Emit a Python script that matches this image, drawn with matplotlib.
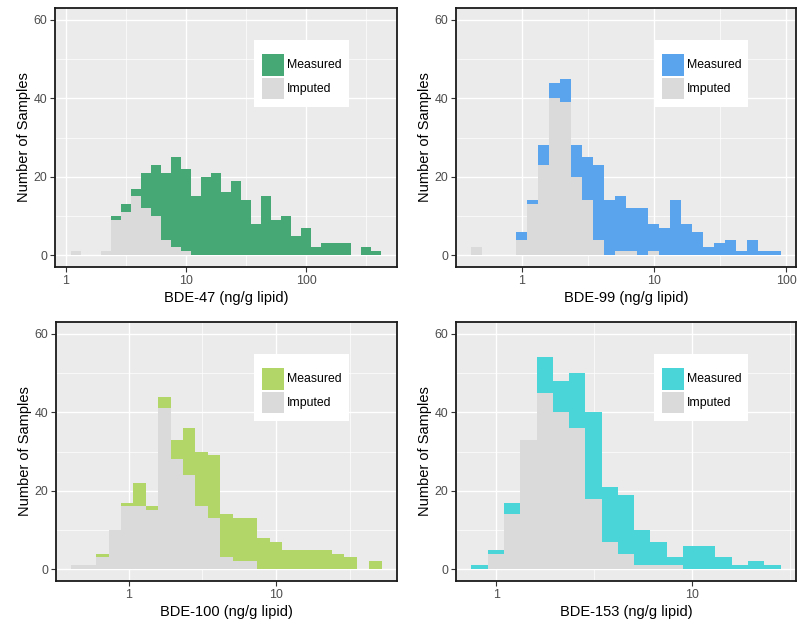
import numpy as np
import matplotlib
matplotlib.use("Agg")
import matplotlib.pyplot as plt
from matplotlib.patches import Rectangle
from matplotlib.ticker import FixedLocator, NullFormatter

plt.rcParams["font.family"] = ["Liberation Sans", "DejaVu Sans"]

# histogram counts per bin (log10-spaced bins), total = measured + imputed
bde47_total = [1, 0, 0, 1, 10, 13, 17, 21, 23, 21, 25, 22, 15, 20, 21, 16,
               19, 14, 8, 15, 9, 10, 5, 7, 2, 3, 3, 3, 0, 2, 1]
bde47_imputed = [1, 0, 0, 1, 9, 11, 15, 12, 10, 4, 2, 1, 0, 0, 0, 0,
                 0, 0, 0, 0, 0, 0, 0, 0, 0, 0, 0, 0, 0, 0, 0]

bde99_total = [2, 0, 0, 0, 6, 14, 28, 44, 45, 28, 25, 23, 14, 15, 12, 12,
               8, 7, 14, 8, 6, 2, 3, 4, 1, 4, 1, 1]
bde99_imputed = [2, 0, 0, 0, 4, 13, 23, 40, 39, 20, 14, 4, 0, 1, 1, 0,
                 1, 0, 0, 0, 0, 0, 0, 0, 0, 0, 0, 0]

bde100_total = [1, 1, 4, 10, 17, 22, 16, 44, 33, 36, 30, 29, 14, 13, 13, 8,
                7, 5, 5, 5, 5, 4, 3, 0, 2]
bde100_imputed = [1, 1, 3, 10, 16, 16, 15, 41, 28, 24, 16, 13, 3, 2, 2, 0,
                  0, 0, 0, 0, 0, 0, 0, 0, 0]

bde153_total = [1, 5, 17, 33, 54, 48, 50, 40, 21, 19, 10, 7, 3, 6, 6, 3, 1, 2, 1]
bde153_imputed = [0, 4, 14, 33, 45, 40, 36, 18, 7, 4, 1, 1, 1, 0, 0, 0, 0, 0, 0]

# log10 of first / last bin edge
bin_range = {
    "BDE-47": (0.039, 2.628),
    "BDE-99": (-0.380, 1.958),
    "BDE-100": (-0.389, 1.717),
    "BDE-153": (-0.127, 1.454),
}

panels = [
    ("BDE-47", bde47_total, bde47_imputed, "#45A875", [1, 10, 100]),
    ("BDE-99", bde99_total, bde99_imputed, "#59A4ED", [1, 10, 100]),
    ("BDE-100", bde100_total, bde100_imputed, "#B3D668", [1, 10]),
    ("BDE-153", bde153_total, bde153_imputed, "#4AD6D8", [1, 10]),
]

GRAY = "#DADADA"
BG = "#EBEBEB"

W, H = 799, 629
fig = plt.figure(figsize=(W / 100, H / 100), dpi=100)

boxes = [(55, 8, 397, 267), (456, 8, 796, 267),
         (56, 322, 397, 581), (456, 322, 796, 581)]


def draw_panel(ax, name, total, imputed, color, ticks):
    total = np.array(total, dtype=float)
    imputed = np.array(imputed, dtype=float)
    measured = total - imputed
    lo, hi = bin_range[name]
    edges = 10 ** np.linspace(lo, hi, len(total) + 1)
    left, width = edges[:-1], np.diff(edges)

    ax.set_xscale("log")
    ax.set_facecolor(BG)
    ax.bar(left, imputed, width=width, align="edge", color=GRAY, linewidth=0, zorder=2)
    ax.bar(left, measured, width=width, align="edge", bottom=imputed,
           color=color, linewidth=0, zorder=2)

    pad = 0.05 * (hi - lo)
    ax.set_xlim(10 ** (lo - pad), 10 ** (hi + pad))
    ax.set_ylim(-3, 63)

    ax.xaxis.set_major_locator(FixedLocator(ticks))
    ax.set_xticklabels([str(t) for t in ticks])
    minors = [t * np.sqrt(10) for t in [0.1] + ticks]
    ax.xaxis.set_minor_locator(FixedLocator(minors))
    ax.xaxis.set_minor_formatter(NullFormatter())
    ax.yaxis.set_major_locator(FixedLocator([0, 20, 40, 60]))
    ax.yaxis.set_minor_locator(FixedLocator([10, 30, 50]))

    ax.grid(which="major", color="white", linewidth=1.0, zorder=0)
    ax.grid(which="minor", color="white", linewidth=0.5, zorder=0)
    ax.set_axisbelow(True)

    ax.tick_params(which="major", length=3.5, width=0.8, color="#333333",
                   labelsize=8.9, labelcolor="#4D4D4D", pad=2)
    ax.tick_params(which="minor", length=0)
    for s in ax.spines.values():
        s.set_color("#1A1A1A")
        s.set_linewidth(1.3)

    ax.set_xlabel(f"{name} (ng/g lipid)", fontsize=10.5, color="black", labelpad=3)
    ax.set_ylabel("Number of Samples", fontsize=10.5, color="black", labelpad=2)

    # legend box drawn in axes coordinates
    tr = ax.transAxes
    ax.add_patch(Rectangle((0.582, 0.618), 0.278, 0.258, transform=tr,
                           facecolor="white", edgecolor="none", zorder=5))
    ax.add_patch(Rectangle((0.605, 0.737), 0.065, 0.085, transform=tr,
                           facecolor=color, edgecolor="none", zorder=6))
    ax.add_patch(Rectangle((0.605, 0.649), 0.065, 0.081, transform=tr,
                           facecolor=GRAY, edgecolor="none", zorder=6))
    ax.text(0.678, 0.780, "Measured", transform=tr, fontsize=8.8,
            va="center", ha="left", zorder=7)
    ax.text(0.678, 0.689, "Imputed", transform=tr, fontsize=8.8,
            va="center", ha="left", zorder=7)


for (name, total, imputed, color, ticks), (x0, y0, x1, y1) in zip(panels, boxes):
    ax = fig.add_axes([x0 / W, 1 - y1 / H, (x1 - x0) / W, (y1 - y0) / H])
    draw_panel(ax, name, total, imputed, color, ticks)

fig.savefig("out.png", dpi=100)
